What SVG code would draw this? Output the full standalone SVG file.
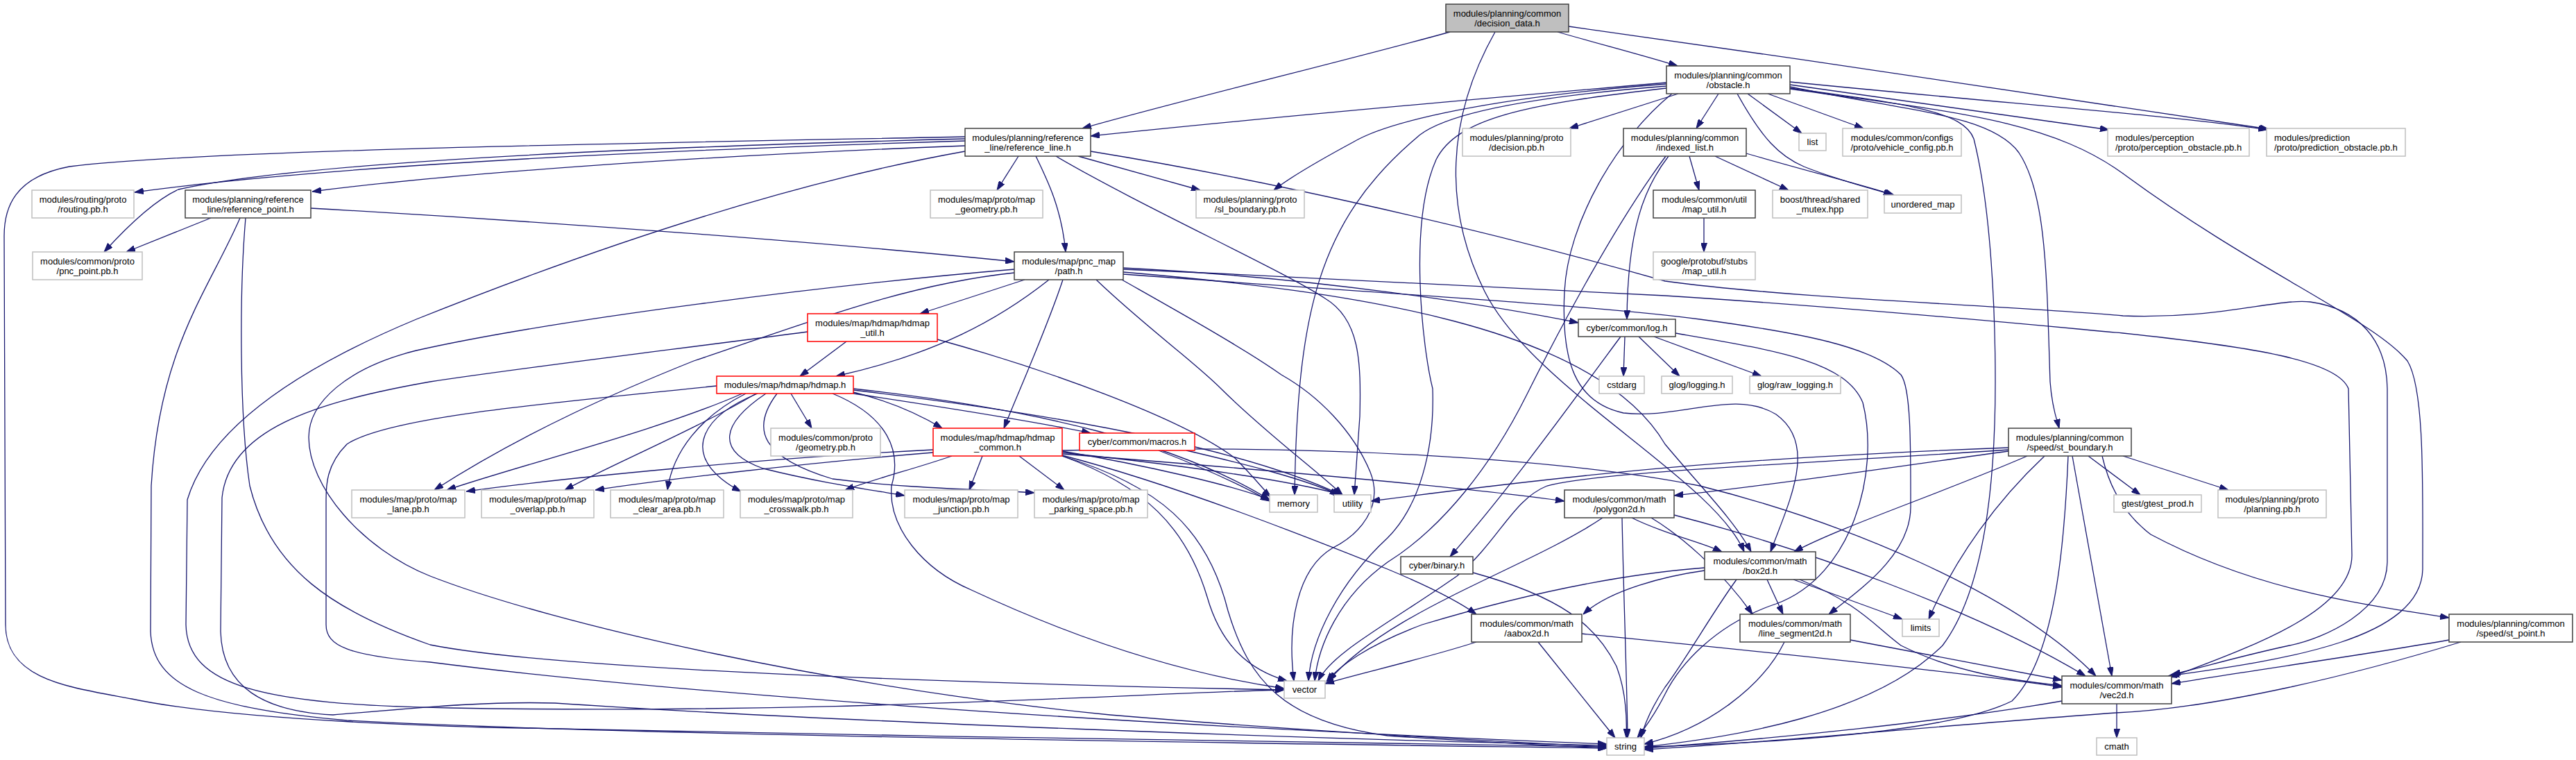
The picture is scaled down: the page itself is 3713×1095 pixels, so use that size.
<svg xmlns="http://www.w3.org/2000/svg" width="3713" height="1095" viewBox="0 0 3713 1095">
<style>
.n rect{fill:#fff;stroke:#404040;stroke-width:1.5}
.n.g rect{stroke:#bfbfbf}
.n.r rect{stroke:#ff0000}
.n.root rect{fill:#bfbfbf}
text{font-family:"Liberation Sans",Arial,sans-serif;font-size:13px;fill:#000;text-anchor:middle}
text.l{text-anchor:start}
.e path{fill:none;stroke:#191970;stroke-width:1.3;marker-end:url(#a)}
</style>
<defs>
<marker id="a" viewBox="0 0 13 9" markerWidth="13" markerHeight="9" refX="13" refY="4.5" orient="auto" markerUnits="userSpaceOnUse">
<path d="M0,0 L13,4.5 L0,9 z" fill="#191970" stroke="#191970" stroke-width="1"/>
</marker>
</defs>
<rect width="3713" height="1095" fill="#fff"/>
<g id="edges" class="e">
<path d="M2090,46 C1950,85 1700,145 1560,185"/>
<path d="M2245,46 C2300,62 2370,80 2418,95"/>
<path d="M2261,38 C2600,85 3000,145 3270,186"/>
<path d="M2155,46 C2085,170 2080,300 2140,420 C2210,560 2470,690 2514,795"/>
<path d="M2402,119 C2100,145 1800,172 1572,196"/>
<path d="M2402,121 C2150,140 2000,175 1950,205 C1900,232 1860,255 1836,274"/>
<path d="M2419,135 L2262,185"/>
<path d="M2477,135 L2445,185"/>
<path d="M2519,135 L2597,192"/>
<path d="M2504,135 C2540,200 2565,225 2600,240 C2650,260 2700,272 2728,281"/>
<path d="M2548,135 L2686,185"/>
<path d="M2580,122 L3040,187"/>
<path d="M2580,118 C2900,150 3150,168 3268,187"/>
<path d="M2402,124 C2200,140 2075,165 2040,200 C1900,320 1870,450 1866,713"/>
<path d="M2402,127 C2200,150 2100,170 2070,230 C2030,320 2050,500 2065,560 C2068,650 2045,730 2000,775 C1930,840 1890,920 1886,981"/>
<path d="M2580,127 C2750,150 2830,160 2845,200 C2870,300 2876,450 2876,550 C2876,700 2860,850 2800,930 C2700,1030 2500,1062 2370,1076"/>
<path d="M2410,135 C2330,200 2260,320 2255,420 C2250,520 2270,580 2340,595 C2420,605 2500,560 2560,597 C2620,640 2580,720 2552,795"/>
<path d="M2580,128 C2800,160 2950,170 3060,250 C3250,390 3420,460 3470,520 C3495,560 3492,700 3492,820 C3490,920 3300,950 3125,974"/>
<path d="M2580,125 C2750,160 2870,165 2910,220 C2950,280 2950,400 2955,550 C2958,590 2965,605 2968,617"/>
<path d="M2435,225 L2449,274"/>
<path d="M2472,225 L2578,274"/>
<path d="M2517,221 C2600,245 2690,268 2730,281"/>
<path d="M2405,225 C2370,270 2346,330 2345,460"/>
<path d="M2401,225 C2330,320 2250,470 2200,570 C2150,670 2080,760 2000,810 C1930,860 1900,930 1895,981"/>
<path d="M2456,314 L2456,363"/>
<path d="M1391,203 C1000,215 500,235 194,277"/>
<path d="M1391,200 C1000,210 450,230 257,273 C220,290 180,330 150,363"/>
<path d="M1391,210 C1000,225 650,250 450,276"/>
<path d="M1391,197 C1000,205 300,215 100,240 C20,255 6,300 6,340 L8,900 C8,980 100,990 190,1007 C300,1030 500,1042 700,1048 C1200,1060 2000,1070 2316,1076"/>
<path d="M1391,218 C1100,270 800,380 600,460 C420,535 300,620 270,720 L268,900 C270,990 380,1015 650,1020 C1200,1030 1650,998 1851,994"/>
<path d="M1468,225 L1437,274"/>
<path d="M1493,225 C1510,260 1530,300 1536,363"/>
<path d="M1554,225 L1730,274"/>
<path d="M1522,225 C1650,300 1850,390 1910,430 C1960,460 1962,520 1960,600 L1952,713"/>
<path d="M1572,218 C1800,255 2100,320 2400,405 C2600,432 2900,440 3060,455 C3200,460 3280,430 3330,435 C3400,445 3440,490 3441,560 L3441,810 C3440,880 3350,920 3300,930 C3230,945 3180,960 3130,972"/>
<path d="M304,314 L182,363"/>
<path d="M448,300 C800,320 1200,350 1462,377"/>
<path d="M346,314 C300,420 230,500 218,700 L217,910 C220,990 300,1020 500,1038 C900,1060 1900,1072 2316,1078"/>
<path d="M354,314 C345,420 345,600 360,700 C390,820 480,880 620,929 C800,965 1400,985 1851,994"/>
<path d="M1477,403 L1326,452"/>
<path d="M1512,403 C1440,460 1350,510 1205,542"/>
<path d="M1532,403 C1510,470 1470,560 1447,617"/>
<path d="M1619,386 C1900,400 2150,440 2275,465"/>
<path d="M1462,393 C1300,410 1150,470 1000,520 C900,560 760,620 626,706"/>
<path d="M1617,403 C1700,450 1790,500 1847,540 C1900,570 1950,620 1975,680 C1995,730 1960,770 1920,790 C1870,820 1855,900 1865,981"/>
<path d="M1462,388 C1200,410 800,460 600,505 C500,530 445,580 445,630 C445,700 520,790 620,830 C800,900 1200,990 1600,1030 C1900,1055 2150,1068 2316,1076"/>
<path d="M1580,403 C1650,470 1720,520 1760,560 C1820,620 1900,680 1935,713"/>
<path d="M1619,392 C1950,420 2300,470 2400,640 C2450,700 2500,750 2524,795"/>
<path d="M1619,395 C1950,420 2300,440 2450,460 C2600,480 2700,500 2740,540 C2755,560 2754,650 2754,730 C2754,800 2680,850 2636,885"/>
<path d="M1619,388 C1900,400 2200,415 2400,426 C2700,445 2950,470 3060,480 C3250,500 3370,520 3385,560 L3390,800 C3390,880 3250,930 3128,976"/>
<path d="M1070,567 C950,620 750,670 644,706"/>
<path d="M1090,567 C1000,620 880,670 814,706"/>
<path d="M1075,567 C1010,600 970,650 962,706"/>
<path d="M1092,567 C1010,600 990,650 1040,690 C1050,698 1058,703 1068,708"/>
<path d="M1104,567 C1040,610 1030,650 1100,675 C1180,695 1250,705 1304,714"/>
<path d="M1120,567 C1080,620 1100,660 1200,690 C1320,705 1420,705 1491,710"/>
<path d="M1140,567 L1170,617"/>
<path d="M1230,565 C1290,580 1330,600 1358,617"/>
<path d="M1230,567 C1350,585 1480,605 1572,624"/>
<path d="M1230,560 C1500,590 1700,640 1830,720"/>
<path d="M1230,562 C1550,600 1800,650 1933,713"/>
<path d="M1033,556 C800,580 560,600 500,640 C470,670 470,700 470,720 L470,900 C470,930 500,945 620,954 C900,990 1500,1040 2316,1072"/>
<path d="M1200,567 C1280,600 1300,650 1285,700 C1280,760 1330,820 1400,850 C1550,920 1700,970 1851,992"/>
<path d="M1220,492 L1153,542"/>
<path d="M1164,478 C1000,500 750,530 620,550 C450,580 330,620 320,717 L318,910 C320,990 380,1025 480,1030 C600,1020 700,1010 800,1013 C1200,1040 1900,1065 2316,1074"/>
<path d="M1351,489 C1500,530 1700,600 1780,660 C1810,690 1825,710 1832,716"/>
<path d="M1345,648 C1100,660 800,690 672,708"/>
<path d="M1345,652 C1150,668 950,692 858,706"/>
<path d="M1372,657 C1320,675 1260,690 1218,706"/>
<path d="M1416,657 L1397,706"/>
<path d="M1469,657 L1534,706"/>
<path d="M1531,650 C1650,670 1780,700 1830,720"/>
<path d="M1531,652 C1700,670 1850,690 1935,713"/>
<path d="M1531,654 C1800,675 2100,700 2255,722"/>
<path d="M1531,656 C1700,700 1900,780 2000,820 C2060,845 2100,865 2128,885"/>
<path d="M1531,657 C1650,700 1710,760 1740,860 C1760,930 1800,965 1855,981"/>
<path d="M1531,657 C1670,700 1740,760 1770,880 C1800,980 1850,1040 2000,1060 C2150,1070 2250,1075 2316,1078"/>
<path d="M1531,649 C1900,640 2250,660 2450,700 C2650,750 2900,850 3021,974"/>
<path d="M1670,649 C1750,680 1800,705 1830,722"/>
<path d="M1710,649 C1800,670 1880,690 1930,713"/>
<path d="M2342,485 L2340,542"/>
<path d="M2362,485 L2421,542"/>
<path d="M2384,485 L2539,542"/>
<path d="M2336,485 C2280,560 2180,700 2090,802"/>
<path d="M2415,480 C2560,505 2660,520 2685,580 C2710,680 2670,830 2560,870 C2470,900 2420,960 2400,1000 C2385,1030 2370,1050 2360,1063"/>
<path d="M2123,825 C2250,860 2300,900 2330,960 C2345,1000 2345,1040 2344,1063"/>
<path d="M2947,657 C2880,720 2820,800 2780,892"/>
<path d="M2981,657 C2975,800 2960,950 2900,1010 C2800,1060 2500,1072 2370,1076"/>
<path d="M2987,657 L3044,974"/>
<path d="M3010,657 L3085,713"/>
<path d="M3060,657 L3212,706"/>
<path d="M3030,657 C3040,700 3060,740 3100,770 C3250,850 3400,870 3530,890"/>
<path d="M2922,657 C2800,710 2650,760 2586,795"/>
<path d="M2895,650 C2750,670 2550,700 2413,714"/>
<path d="M2895,645 C2500,660 2300,680 1976,722"/>
<path d="M2895,648 C2600,668 2300,680 2230,700 C2180,720 2160,780 2100,830 C2000,900 1920,940 1900,981"/>
<path d="M2352,746 C2400,770 2450,780 2482,795"/>
<path d="M2380,746 C2420,770 2480,820 2526,885"/>
<path d="M2413,742 C2600,790 2850,880 3006,974"/>
<path d="M2338,746 C2340,850 2345,980 2346,1063"/>
<path d="M2310,746 C2200,820 2000,880 1915,981"/>
<path d="M2457,822 C2400,830 2320,850 2282,885"/>
<path d="M2457,818 C2300,830 2150,870 2050,900 C1970,930 1930,960 1912,982"/>
<path d="M2503,835 C2470,880 2430,950 2400,990 C2380,1020 2370,1045 2365,1063"/>
<path d="M2547,835 L2570,885"/>
<path d="M2585,835 L2742,892"/>
<path d="M2594,835 C2680,870 2700,900 2740,930 C2820,970 2900,980 2972,988"/>
<path d="M2128,925 C2050,950 1960,970 1910,985"/>
<path d="M2217,925 L2328,1063"/>
<path d="M2280,913 C2500,935 2800,965 2972,990"/>
<path d="M2572,925 C2540,990 2460,1050 2370,1072"/>
<path d="M2667,922 L2972,980"/>
<path d="M3051,1014 L3051,1063"/>
<path d="M2972,1010 C2800,1040 2550,1065 2370,1078"/>
<path d="M3530,922 C3400,945 3250,965 3130,985"/>
<path d="M3547,925 C3400,970 3200,1020 3050,1027 C2800,1045 2550,1070 2370,1080"/>
</g>
<g id="n1" class="n root"><rect x="2084" y="6" width="177" height="40"/><text x="2172.5" y="23.5">modules/planning/common</text><text x="2172.5" y="38">/decision_data.h</text></g>
<g id="n2" class="n"><rect x="2402" y="95" width="178" height="40"/><text x="2491" y="112.5">modules/planning/common</text><text x="2491" y="127">/obstacle.h</text></g>
<g id="n3" class="n"><rect x="1391" y="185" width="181" height="40"/><text x="1481.5" y="202.5">modules/planning/reference</text><text x="1481.5" y="217">_line/reference_line.h</text></g>
<g id="n4" class="n g"><rect x="2108" y="185" width="156" height="40"/><text x="2186" y="202.5">modules/planning/proto</text><text x="2186" y="217">/decision.pb.h</text></g>
<g id="n5" class="n"><rect x="2340" y="185" width="177" height="40"/><text x="2428.5" y="202.5">modules/planning/common</text><text x="2428.5" y="217">/indexed_list.h</text></g>
<g id="n6" class="n g"><rect x="2593" y="192" width="39" height="25"/><text x="2612.5" y="209">list</text></g>
<g id="n7" class="n g"><rect x="2656" y="185" width="171" height="40"/><text x="2741.5" y="202.5">modules/common/configs</text><text x="2741.5" y="217">/proto/vehicle_config.pb.h</text></g>
<g id="n8" class="n g"><rect x="3038" y="185" width="204" height="40"/><text class="l" x="3049" y="202.5">modules/perception</text><text class="l" x="3049" y="217">/proto/perception_obstacle.pb.h</text></g>
<g id="n9" class="n g"><rect x="3267" y="185" width="200" height="40"/><text class="l" x="3278" y="202.5">modules/prediction</text><text class="l" x="3278" y="217">/proto/prediction_obstacle.pb.h</text></g>
<g id="n10" class="n g"><rect x="46" y="274" width="147" height="40"/><text x="119.5" y="291.5">modules/routing/proto</text><text x="119.5" y="306">/routing.pb.h</text></g>
<g id="n11" class="n"><rect x="267" y="274" width="181" height="40"/><text x="357.5" y="291.5">modules/planning/reference</text><text x="357.5" y="306">_line/reference_point.h</text></g>
<g id="n12" class="n g"><rect x="1341" y="274" width="162" height="40"/><text x="1422" y="291.5">modules/map/proto/map</text><text x="1422" y="306">_geometry.pb.h</text></g>
<g id="n13" class="n g"><rect x="1724" y="274" width="156" height="40"/><text x="1802" y="291.5">modules/planning/proto</text><text x="1802" y="306">/sl_boundary.pb.h</text></g>
<g id="n14" class="n"><rect x="2383" y="274" width="147" height="40"/><text x="2456.5" y="291.5">modules/common/util</text><text x="2456.5" y="306">/map_util.h</text></g>
<g id="n15" class="n g"><rect x="2555" y="274" width="137" height="40"/><text x="2623.5" y="291.5">boost/thread/shared</text><text x="2623.5" y="306">_mutex.hpp</text></g>
<g id="n16" class="n g"><rect x="2716" y="281" width="111" height="26"/><text x="2771.5" y="298.5">unordered_map</text></g>
<g id="n17" class="n g"><rect x="47" y="363" width="158" height="40"/><text x="126" y="380.5">modules/common/proto</text><text x="126" y="395">/pnc_point.pb.h</text></g>
<g id="n18" class="n"><rect x="1462" y="363" width="157" height="40"/><text x="1540.5" y="380.5">modules/map/pnc_map</text><text x="1540.5" y="395">/path.h</text></g>
<g id="n19" class="n g"><rect x="2383" y="363" width="147" height="40"/><text x="2456.5" y="380.5">google/protobuf/stubs</text><text x="2456.5" y="395">/map_util.h</text></g>
<g id="n20" class="n r"><rect x="1164" y="452" width="187" height="40"/><text x="1257.5" y="469.5">modules/map/hdmap/hdmap</text><text x="1257.5" y="484">_util.h</text></g>
<g id="n21" class="n"><rect x="2275" y="460" width="140" height="25"/><text x="2345" y="477">cyber/common/log.h</text></g>
<g id="n22" class="n r"><rect x="1033" y="542" width="197" height="25"/><text x="1131.5" y="559">modules/map/hdmap/hdmap.h</text></g>
<g id="n23" class="n g"><rect x="2305" y="542" width="65" height="25"/><text x="2337.5" y="559">cstdarg</text></g>
<g id="n24" class="n g"><rect x="2395" y="542" width="102" height="25"/><text x="2446" y="559">glog/logging.h</text></g>
<g id="n25" class="n g"><rect x="2522" y="542" width="131" height="25"/><text x="2587.5" y="559">glog/raw_logging.h</text></g>
<g id="n26" class="n g"><rect x="1111" y="617" width="158" height="40"/><text x="1190" y="634.5">modules/common/proto</text><text x="1190" y="649">/geometry.pb.h</text></g>
<g id="n27" class="n r"><rect x="1345" y="617" width="186" height="40"/><text x="1438" y="634.5">modules/map/hdmap/hdmap</text><text x="1438" y="649">_common.h</text></g>
<g id="n28" class="n r"><rect x="1556" y="624" width="166" height="25"/><text x="1639" y="641">cyber/common/macros.h</text></g>
<g id="n29" class="n"><rect x="2895" y="617" width="177" height="40"/><text x="2983.5" y="634.5">modules/planning/common</text><text x="2983.5" y="649">/speed/st_boundary.h</text></g>
<g id="n30" class="n g"><rect x="507" y="706" width="163" height="40"/><text x="588.5" y="723.5">modules/map/proto/map</text><text x="588.5" y="738">_lane.pb.h</text></g>
<g id="n31" class="n g"><rect x="694" y="706" width="162" height="40"/><text x="775" y="723.5">modules/map/proto/map</text><text x="775" y="738">_overlap.pb.h</text></g>
<g id="n32" class="n g"><rect x="880" y="706" width="163" height="40"/><text x="961.5" y="723.5">modules/map/proto/map</text><text x="961.5" y="738">_clear_area.pb.h</text></g>
<g id="n33" class="n g"><rect x="1067" y="706" width="162" height="40"/><text x="1148" y="723.5">modules/map/proto/map</text><text x="1148" y="738">_crosswalk.pb.h</text></g>
<g id="n34" class="n g"><rect x="1304" y="706" width="163" height="40"/><text x="1385.5" y="723.5">modules/map/proto/map</text><text x="1385.5" y="738">_junction.pb.h</text></g>
<g id="n35" class="n g"><rect x="1491" y="706" width="163" height="40"/><text x="1572.5" y="723.5">modules/map/proto/map</text><text x="1572.5" y="738">_parking_space.pb.h</text></g>
<g id="n36" class="n g"><rect x="1830" y="713" width="69" height="25"/><text x="1864.5" y="730">memory</text></g>
<g id="n37" class="n g"><rect x="1923" y="713" width="53" height="25"/><text x="1949.5" y="730">utility</text></g>
<g id="n38" class="n"><rect x="2255" y="706" width="158" height="40"/><text x="2334" y="723.5">modules/common/math</text><text x="2334" y="738">/polygon2d.h</text></g>
<g id="n39" class="n g"><rect x="3047" y="713" width="126" height="25"/><text x="3110" y="730">gtest/gtest_prod.h</text></g>
<g id="n40" class="n g"><rect x="3197" y="706" width="156" height="40"/><text x="3275" y="723.5">modules/planning/proto</text><text x="3275" y="738">/planning.pb.h</text></g>
<g id="n41" class="n"><rect x="2019" y="802" width="104" height="25"/><text x="2071" y="819">cyber/binary.h</text></g>
<g id="n42" class="n"><rect x="2457" y="795" width="160" height="40"/><text x="2537" y="812.5">modules/common/math</text><text x="2537" y="827">/box2d.h</text></g>
<g id="n43" class="n"><rect x="2121" y="885" width="159" height="40"/><text x="2200.5" y="902.5">modules/common/math</text><text x="2200.5" y="917">/aabox2d.h</text></g>
<g id="n44" class="n"><rect x="2508" y="885" width="159" height="40"/><text x="2587.5" y="902.5">modules/common/math</text><text x="2587.5" y="917">/line_segment2d.h</text></g>
<g id="n45" class="n g"><rect x="2742" y="892" width="53" height="25"/><text x="2768.5" y="909">limits</text></g>
<g id="n46" class="n"><rect x="3530" y="885" width="178" height="40"/><text x="3619" y="902.5">modules/planning/common</text><text x="3619" y="917">/speed/st_point.h</text></g>
<g id="n47" class="n g"><rect x="1851" y="981" width="59" height="25"/><text x="1880.5" y="998">vector</text></g>
<g id="n48" class="n"><rect x="2972" y="974" width="158" height="40"/><text x="3051" y="991.5">modules/common/math</text><text x="3051" y="1006">/vec2d.h</text></g>
<g id="n49" class="n g"><rect x="2316" y="1063" width="54" height="25"/><text x="2343" y="1080">string</text></g>
<g id="n50" class="n g"><rect x="3022" y="1063" width="58" height="25"/><text x="3051" y="1080">cmath</text></g>
</svg>
